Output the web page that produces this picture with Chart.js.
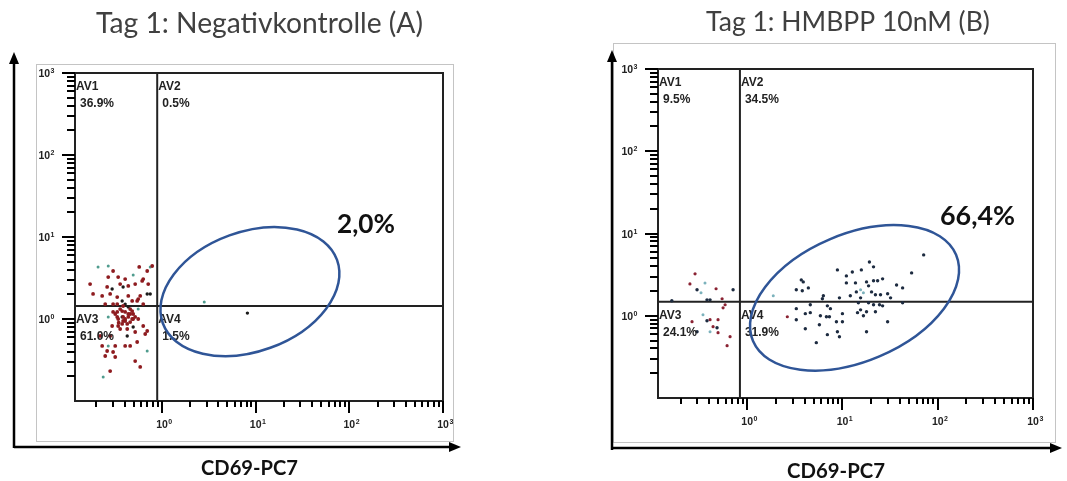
<!DOCTYPE html>
<html>
<head>
<meta charset="utf-8">
<script src="https://cdn.jsdelivr.net/npm/chart.js@4"></script>
<style>
html, body { margin: 0; padding: 0; background: #fff; }
#wrap { position: relative; width: 1067px; height: 481px; overflow: hidden; }
canvas { position: absolute; top: 0; }
#cA { left: 0; }
#cB { left: 533px; }
</style>
</head>
<body>
<div id="wrap">
  <canvas id="cA" width="533" height="481"></canvas>
  <canvas id="cB" width="534" height="481"></canvas>
</div>
<script>
// axis ranges (log scales)
let negXRange = [0.118, 1000];
let hmbXRange = [0.116, 1000];
let yRange = [0.1, 1000];

// quadrant gates
let negGate = { x: 0.89, y: 1.44 };
let hmbGate = { x: 0.84, y: 1.48 };

// tick labels
let decadeValues = [1, 10, 100, 1000];
let decadeExps = ["0", "1", "2", "3"];
let minorBases = [0.1, 1, 10, 100];
let minorSteps = [2, 3, 4, 5, 6, 7, 8, 9];

// quadrant texts
let negQuad = [["AV1", "36.9%"], ["AV2", "0.5%"], ["AV3", "61.0%"], ["AV4", "1.5%"]];
let hmbQuad = [["AV1", "9.5%"], ["AV2", "34.5%"], ["AV3", "24.1%"], ["AV4", "31.9%"]];

// Panel A: Negativkontrolle events
let negRed = [
  {x:0.267,y:3.25},{x:0.301,y:3.85},{x:0.341,y:3.25},{x:0.572,y:4.31},{x:0.696,y:3.85},
  {x:0.518,y:2.67},{x:0.615,y:2.91},{x:0.714,y:2.67},{x:0.171,y:2.67},{x:0.260,y:2.46},
  {x:0.358,y:2.67},{x:0.437,y:2.53},{x:0.184,y:2.02},{x:0.230,y:1.91},{x:0.280,y:2.02},
  {x:0.333,y:1.85},{x:0.437,y:1.91},{x:0.586,y:1.91},{x:0.481,y:1.66},{x:0.558,y:1.75},
  {x:0.248,y:1.52},{x:0.301,y:1.52},{x:0.385,y:1.44},{x:0.333,y:1.22},{x:0.376,y:1.25},
  {x:0.437,y:1.15},{x:0.481,y:1.25},{x:0.341,y:1.00},{x:0.405,y:0.945},{x:0.493,y:1.00},
  {x:0.333,y:1.06},{x:0.385,y:0.945},{x:0.341,y:0.822},{x:0.426,y:0.755},{x:0.631,y:0.822},
  {x:0.518,y:0.694},{x:0.663,y:0.656},{x:0.696,y:0.714},{x:0.230,y:0.469},{x:0.317,y:0.469},
  {x:0.405,y:0.469},{x:0.458,y:0.469},{x:0.544,y:0.524},{x:0.260,y:0.407},{x:0.301,y:0.396},
  {x:0.248,y:0.354},{x:0.317,y:0.344},{x:0.518,y:0.307},{x:0.586,y:0.260},{x:0.280,y:0.232},
  {x:0.301,y:1.22},{x:0.358,y:1.32},{x:0.518,y:1.06},{x:0.558,y:1.00},{x:0.631,y:1.52},
  {x:0.458,y:0.918},{x:0.294,y:0.822},{x:0.358,y:0.755},{x:0.219,y:0.621},{x:0.280,y:0.621},
  {x:0.405,y:1.22},{x:0.437,y:1.06},{x:0.458,y:1.32},{x:0.333,y:1.52},{x:0.544,y:1.66},
  {x:0.631,y:3.07},{x:0.405,y:3.07},{x:0.787,y:4.43},{x:0.481,y:1.00},{x:0.317,y:1.15},
  {x:0.385,y:1.06},{x:0.458,y:1.15},{x:0.426,y:0.870},{x:0.376,y:0.870},{x:0.493,y:1.15},
  {x:0.405,y:1.00},{x:0.345,y:0.900}
];
let negBlack = [
  {x:0.294,y:2.32},{x:0.385,y:2.46},{x:0.696,y:2.02},{x:0.750,y:2.02},{x:0.376,y:1.66},
  {x:0.437,y:1.40},{x:0.493,y:0.798},{x:0.426,y:0.621},{x:0.405,y:1.52},{x:0.376,y:1.06},
  {x:8.17,y:1.18}
];
let negTeal = [
  {x:0.208,y:4.31},{x:0.493,y:3.44},{x:0.750,y:4.31},{x:0.558,y:1.32},{x:0.267,y:1.06},
  {x:0.267,y:0.469},{x:0.696,y:0.407},{x:0.236,y:0.196},{x:0.267,y:4.43},{x:2.83,y:1.61}
];

// Panel B: HMBPP 10nM events
let hmbNavy = [
  {x:0.298,y:2.07},{x:0.712,y:2.07},{x:0.379,y:1.56},{x:0.408,y:1.56},{x:0.379,y:0.870},
  {x:0.483,y:0.716},{x:0.298,y:0.640},{x:0.162,y:1.52},
  {x:71.2,y:5.49},{x:53.2,y:3.32},{x:8.86,y:3.61},{x:19.2,y:4.51},{x:21.2,y:3.93},
  {x:15.8,y:3.61},{x:12.7,y:3.41},{x:11.0,y:3.05},{x:3.70,y:2.73},{x:3.88,y:2.58},
  {x:3.28,y:2.07},{x:3.79,y:2.01},{x:4.39,y:2.18},{x:11.0,y:2.51},{x:13.7,y:2.51},
  {x:17.9,y:2.58},{x:21.2,y:2.66},{x:26.4,y:2.81},{x:23.4,y:2.66},{x:18.8,y:2.31},
  {x:14.0,y:1.95},{x:20.2,y:1.95},{x:22.2,y:1.80},{x:25.1,y:1.80},{x:29.8,y:1.85},
  {x:37.0,y:2.37},{x:42.8,y:2.18},{x:32.0,y:1.65},{x:6.31,y:1.75},{x:6.16,y:1.61},
  {x:9.30,y:1.65},{x:12.1,y:1.75},{x:15.5,y:1.65},{x:18.8,y:1.44},{x:21.2,y:1.36},
  {x:24.5,y:1.36},{x:26.4,y:1.32},{x:42.8,y:1.44},{x:4.60,y:1.36},{x:6.95,y:1.32},
  {x:7.48,y:1.22},{x:3.28,y:1.22},{x:14.7,y:1.44},{x:15.5,y:1.18},{x:14.4,y:1.09},
  {x:17.9,y:1.12},{x:22.2,y:1.12},{x:4.08,y:1.06},{x:4.60,y:1.09},{x:10.0,y:1.06},
  {x:16.6,y:1.00},{x:3.28,y:0.895},{x:5.87,y:1.00},{x:6.79,y:0.972},{x:7.30,y:0.972},
  {x:8.65,y:0.846},{x:10.0,y:0.846},{x:29.8,y:0.846},{x:5.73,y:0.778},{x:4.08,y:0.696},
  {x:8.86,y:0.640},{x:17.9,y:0.640},{x:6.95,y:0.589},{x:9.30,y:0.556},{x:5.32,y:0.471}
];
let hmbRed = [
  {x:0.284,y:3.23},{x:0.251,y:2.44},{x:0.472,y:2.13},{x:0.546,y:1.61},{x:0.587,y:1.36},
  {x:0.559,y:1.25},{x:0.408,y:0.895},{x:0.495,y:0.895},{x:0.439,y:0.736},{x:0.264,y:0.846},
  {x:0.495,y:0.622},{x:0.662,y:0.556},{x:0.616,y:0.433},{x:2.64,y:0.972}
];
let hmbTeal = [
  {x:0.361,y:2.51},{x:0.328,y:1.90},{x:0.344,y:1.03},{x:0.408,y:0.640},{x:1.88,y:1.75},
  {x:15.5,y:2.07},{x:16.6,y:1.90}
];

function fitFont(ctx, text, weight, family, width) {
  ctx.font = weight + " 100px " + family;
  let size = 100 * width / ctx.measureText(text).width;
  return weight + " " + size.toFixed(2) + "px " + family;
}

function arrow(ctx, x1, y1, x2, y2) {
  let ang = Math.atan2(y2 - y1, x2 - x1);
  ctx.lineWidth = 2.5;
  ctx.beginPath();
  ctx.moveTo(x1, y1);
  ctx.lineTo(x2 - 8 * Math.cos(ang), y2 - 8 * Math.sin(ang));
  ctx.stroke();
  ctx.beginPath();
  ctx.moveTo(x2, y2);
  ctx.lineTo(x2 - 12 * Math.cos(ang) + 5 * Math.sin(ang), y2 - 12 * Math.sin(ang) - 5 * Math.cos(ang));
  ctx.lineTo(x2 - 12 * Math.cos(ang) - 5 * Math.sin(ang), y2 - 12 * Math.sin(ang) + 5 * Math.cos(ang));
  ctx.closePath();
  ctx.fill();
}

// "10" with a small superscript exponent
function powLabel(ctx, x, y, exp, align) {
  ctx.font = "bold 10.5px 'Liberation Sans', Arial, sans-serif";
  let w1 = ctx.measureText("10").width;
  ctx.font = "bold 7px 'Liberation Sans', Arial, sans-serif";
  let w2 = ctx.measureText(exp).width;
  let start = align === "right" ? x - w1 - w2 : x - (w1 + w2) / 2;
  ctx.textAlign = "left";
  ctx.font = "bold 10.5px 'Liberation Sans', Arial, sans-serif";
  ctx.fillText("10", start, y);
  ctx.font = "bold 7px 'Liberation Sans', Arial, sans-serif";
  ctx.fillText(exp, start + w1 + 0.5, y - 4);
}

// axis tick marks, own plugin drawn last
const logTicks = {
  id: "logTicks",
  afterDraw(chart) {
    let ctx = chart.ctx, a = chart.chartArea;
    let xs = chart.scales.x, ys = chart.scales.y;
    ctx.save();
    ctx.globalAlpha = 1;
    ctx.fillStyle = "#000";
    minorBases.forEach(b => minorSteps.forEach(m => {
      let v = b * m;
      if (v > xs.min && v < xs.max) {
        ctx.fillRect(Math.round(xs.getPixelForValue(v)) - 1, Math.round(a.bottom), 2, 6);
      }
      if (v > ys.min && v < ys.max) {
        ctx.fillRect(Math.round(a.left) - 8, Math.round(ys.getPixelForValue(v)) - 1, 8, 2);
      }
    }));
    decadeValues.forEach(v => {
      ctx.fillRect(Math.round(xs.getPixelForValue(v)) - 1, Math.round(a.bottom), 2, 12);
      ctx.fillRect(Math.round(a.left) - 13, Math.round(ys.getPixelForValue(v)) - 1, 13, 2);
    });
    ctx.restore();
  }
};

const panelDecor = {
  id: "panelDecor",
  beforeDraw(chart, args, o) {
    let ctx = chart.ctx;
    ctx.save();
    ctx.fillStyle = "#fff";
    ctx.fillRect(0, 0, chart.width, chart.height);
    ctx.strokeStyle = "#c4c4c4";
    ctx.lineWidth = 1;
    ctx.strokeRect(o.frame[0] + 0.5, o.frame[1] + 0.5, o.frame[2] - o.frame[0], o.frame[3] - o.frame[1]);
    ctx.restore();
  },
  afterDraw(chart, args, o) {
    let ctx = chart.ctx, a = chart.chartArea;
    let xs = chart.scales.x, ys = chart.scales.y;
    ctx.save();

    // plot box
    ctx.strokeStyle = "#222";
    ctx.lineWidth = 2;
    ctx.strokeRect(a.left, a.top, a.right - a.left, a.bottom - a.top);

    // decade labels
    ctx.fillStyle = "#222";
    decadeValues.forEach((v, i) => {
      powLabel(ctx, xs.getPixelForValue(v) + 2, a.bottom + 27, decadeExps[i], "center");
      powLabel(ctx, a.left - 21, ys.getPixelForValue(v) + 4, decadeExps[i], "right");
    });

    // quadrant labels
    let gx = xs.getPixelForValue(o.gate.x), gy = ys.getPixelForValue(o.gate.y);
    let spots = [[a.left, a.top], [gx, a.top], [a.left, gy], [gx, gy]];
    ctx.font = "bold 12px 'Liberation Sans', Arial, sans-serif";
    ctx.textAlign = "left";
    spots.forEach((s, i) => {
      ctx.fillText(o.quad[i][0], s[0] + 1, s[1] + 17);
      ctx.fillText(o.quad[i][1], s[0] + 5, s[1] + 34);
    });

    // gate ellipse
    let e = o.ellipse;
    ctx.strokeStyle = "#2F5597";
    ctx.lineWidth = 2.5;
    ctx.beginPath();
    ctx.ellipse(xs.getPixelForValue(e.cx), ys.getPixelForValue(e.cy), e.rx, e.ry, -e.rot * Math.PI / 180, 0, 2 * Math.PI);
    ctx.stroke();

    // axis arrows
    ctx.strokeStyle = "#000";
    ctx.fillStyle = "#000";
    arrow(ctx, o.vArrow[0], o.vArrow[1], o.vArrow[2], o.vArrow[3]);
    arrow(ctx, o.hArrow[0], o.hArrow[1], o.hArrow[2], o.hArrow[3]);

    // texts
    let fam = "Lato, 'Open Sans', sans-serif";
    ctx.textAlign = "center";
    ctx.fillStyle = "#404040";
    ctx.font = fitFont(ctx, o.title.text, "normal", fam, o.title.w);
    ctx.fillText(o.title.text, o.title.cx, o.title.base);
    ctx.fillStyle = "#111";
    ctx.font = fitFont(ctx, o.xlab.text, "bold", fam, o.xlab.w);
    ctx.fillText(o.xlab.text, o.xlab.cx, o.xlab.base);
    ctx.textAlign = "left";
    ctx.font = fitFont(ctx, o.pct.text, "bold", fam, o.pct.w);
    ctx.fillText(o.pct.text, o.pct.x, o.pct.base);
    ctx.restore();
  }
};

function makePanel(id, sets, xRange, gate, padding, decor) {
  let pts = (data, color, r) => ({ type: "scatter", data: data, backgroundColor: color, borderWidth: 0, pointRadius: r, pointHoverRadius: r });
  let datasets = sets.map(s => pts(s[0], s[1], s[2]));
  datasets.push({ type: "line", data: [{ x: gate.x, y: yRange[0] }, { x: gate.x, y: yRange[1] }], borderColor: "#222", borderWidth: 2, pointRadius: 0, clip: false });
  datasets.push({ type: "line", data: [{ x: xRange[0], y: gate.y }, { x: xRange[1], y: gate.y }], borderColor: "#222", borderWidth: 2, pointRadius: 0, clip: false });
  decor.gate = gate;
  return new Chart(document.getElementById(id).getContext("2d"), {
    type: "scatter",
    data: { datasets: datasets },
    options: {
      responsive: false,
      animation: false,
      layout: { padding: padding },
      plugins: { legend: { display: false }, tooltip: { enabled: false }, panelDecor: decor },
      scales: {
        x: { type: "logarithmic", min: xRange[0], max: xRange[1], display: false },
        y: { type: "logarithmic", min: yRange[0], max: yRange[1], display: false }
      }
    },
    plugins: [panelDecor, logTicks]
  });
}

makePanel("cA",
  [[negRed, "#8e1b1f", 1.9], [negBlack, "#1b1b1b", 1.7], [negTeal, "#4f9c8e", 1.5]],
  negXRange, negGate,
  { left: 75, top: 73, right: 90, bottom: 80 },
  {
    frame: [36, 64, 453, 441],
    vArrow: [14, 448, 14, 52],
    hArrow: [14, 447, 461, 447],
    quad: negQuad,
    ellipse: { cx: 8.69, cy: 2.16, rx: 92.7, ry: 59.8, rot: 20 },
    title: { text: "Tag 1: Negativkontrolle (A)", cx: 259.5, base: 33, w: 327 },
    xlab: { text: "CD69-PC7", cx: 249.5, base: 475, w: 97 },
    pct: { text: "2,0%", x: 337, base: 233, w: 58 }
  });

makePanel("cB",
  [[hmbNavy, "#1d2b40", 1.7], [hmbRed, "#8a2232", 1.6], [hmbTeal, "#7cb2bc", 1.5]],
  hmbXRange, hmbGate,
  { left: 125, top: 69, right: 34, bottom: 83 },
  {
    frame: [80, 43, 522, 442],
    vArrow: [79, 450, 79, 50],
    hArrow: [79, 448, 529, 448],
    quad: hmbQuad,
    ellipse: { cx: 13.4, cy: 1.65, rx: 110.3, ry: 63.6, rot: 23 },
    title: { text: "Tag 1: HMBPP 10nM (B)", cx: 315, base: 31, w: 284 },
    xlab: { text: "CD69-PC7", cx: 303, base: 478, w: 98 },
    pct: { text: "66,4%", x: 407, base: 225, w: 75 }
  });
</script>
</body>
</html>
